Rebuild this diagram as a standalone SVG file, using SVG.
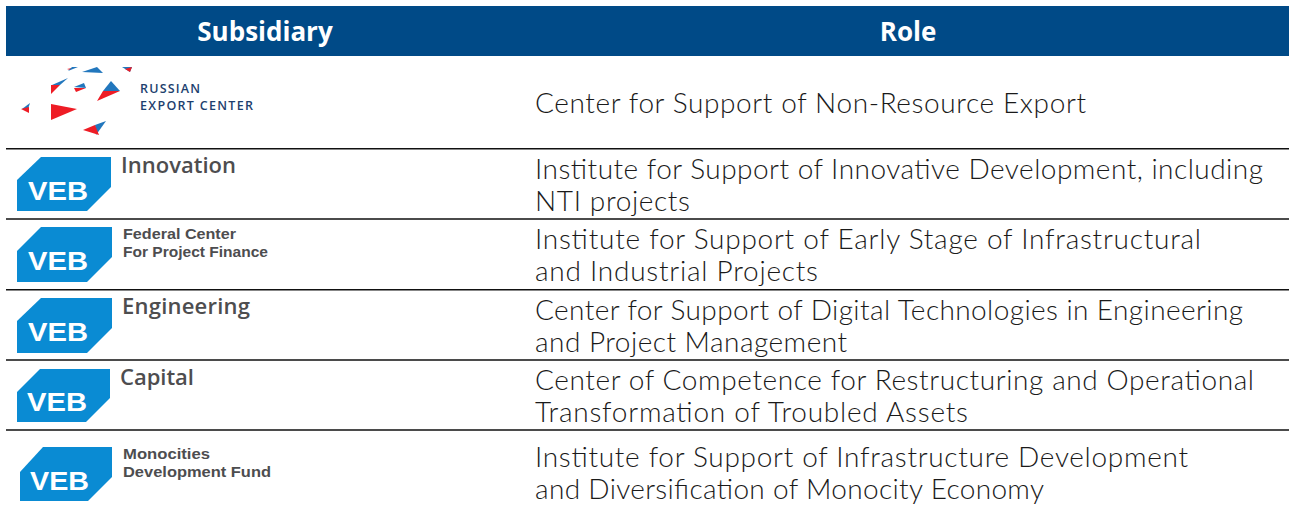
<svg xmlns="http://www.w3.org/2000/svg" width="1289" height="505" viewBox="0 0 1289 505">
<style>
.hd{font:700 26px "Open Sans","Liberation Sans",sans-serif;fill:#fff;text-anchor:middle}
.role{font:300 28px Lato,"Liberation Sans",sans-serif;fill:#1a1a1a}
.sub{font:600 22px "Open Sans","Liberation Sans",sans-serif;fill:#4d4d4f}
.sm{font:700 15px "Liberation Sans",Arial,sans-serif;fill:#4d4d4f}
.veb{font:700 26px "Liberation Sans",Arial,sans-serif;fill:#fff}
.box{fill:#0a8bd3}
.rule{stroke:#111;stroke-width:1.5;fill:none}
.b{fill:#2277bd}
.r{fill:#ee1c25}
.rec{font:600 12.5px "Open Sans","Liberation Sans",sans-serif;fill:#1d3f6e}
</style>
<rect width="1289" height="505" fill="#fff"/>
<g id="header">
<rect x="6" y="6" width="1283" height="50" fill="#004a87"/>
<text class="hd" x="265" y="41">Subsidiary</text>
<text class="hd" x="908" y="41">Role</text>
</g>
<g id="connectors">
<path class="rule" d="M6 148.8H1289M6 219H1289M6 289.8H1289M6 360H1289M6 430H1289"/>
</g>
<g id="row-rec">
<polygon class="r" points="67,69 72,68 70,70"/><polygon class="b" points="72,67 78,67 68,71"/>
<polygon class="b" points="82,72 97,67 103,73"/>
<polygon class="b" points="122,67 132,67 130,72"/><polygon class="r" points="125,69 132,67 130,72"/>
<polygon class="b" points="52,85 68,78 60,85"/><polygon class="r" points="51,85 60,85 51,94"/>
<polygon class="b" points="74,87 84,83 86,88"/><polygon class="r" points="74,88 86,88 76,92"/>
<polygon class="b" points="111,81 120,91 103,91"/><polygon class="r" points="103,91 120,91 97,101"/>
<polygon class="b" points="30,103 28,109 22,109"/><polygon class="r" points="21,109 29,107 29,113"/>
<polygon class="r" points="51,104 77,109 51,120"/>
<polygon class="b" points="106,121 96,135 95,125"/><polygon class="r" points="95,125 99,135 83,130"/>
<text class="rec" x="140" y="93" textLength="60">RUSSIAN</text>
<text class="rec" x="140" y="110" textLength="113">EXPORT CENTER</text>
<text class="role" x="535" y="113" textLength="551">Center for Support of Non-Resource Export</text>
</g>
<g id="row-innovation">
<polygon class="box" points="17,180 41,157 111,157 111,187 87,211 17,211"/>
<text class="veb" x="28" y="200" textLength="60" lengthAdjust="spacingAndGlyphs">VEB</text>
<text class="sub" x="121" y="173" textLength="115">Innovation</text>
<text class="role" x="535" y="179" textLength="728">Institute for Support of Innovative Development, including</text>
<text class="role" x="535" y="211" textLength="155">NTI projects</text>
</g>
<g id="row-federal">
<polygon class="box" points="17,251 41,227 112,227 112,257 87,282 17,282"/>
<text class="veb" x="28" y="270" textLength="60" lengthAdjust="spacingAndGlyphs">VEB</text>
<text class="sm" x="123" y="239" textLength="113" lengthAdjust="spacingAndGlyphs">Federal Center</text>
<text class="sm" x="123" y="257" textLength="145" lengthAdjust="spacingAndGlyphs">For Project Finance</text>
<text class="role" x="535" y="249" textLength="666">Institute for Support of Early Stage of Infrastructural</text>
<text class="role" x="535" y="281" textLength="283">and Industrial Projects</text>
</g>
<g id="row-engineering">
<polygon class="box" points="17,321 41,298 112,298 112,328 87,353 17,353"/>
<text class="veb" x="28" y="341" textLength="60" lengthAdjust="spacingAndGlyphs">VEB</text>
<text class="sub" x="122" y="314" textLength="128">Engineering</text>
<text class="role" x="535" y="320" textLength="708">Center for Support of Digital Technologies in Engineering</text>
<text class="role" x="535" y="352" textLength="312">and Project Management</text>
</g>
<g id="row-capital">
<polygon class="box" points="17,392 40,369 110,369 110,398 86,422 17,422"/>
<text class="veb" x="27" y="411" textLength="60" lengthAdjust="spacingAndGlyphs">VEB</text>
<text class="sub" x="120" y="385" textLength="74">Capital</text>
<text class="role" x="535" y="390" textLength="719">Center of Competence for Restructuring and Operational</text>
<text class="role" x="535" y="422" textLength="433">Transformation of Troubled Assets</text>
</g>
<g id="row-monocities">
<polygon class="box" points="20,472 43,447 112,447 112,477 88,501 20,501"/>
<text class="veb" x="30" y="490" textLength="59" lengthAdjust="spacingAndGlyphs">VEB</text>
<text class="sm" x="123" y="459" textLength="87" lengthAdjust="spacingAndGlyphs">Monocities</text>
<text class="sm" x="123" y="476.5" textLength="148" lengthAdjust="spacingAndGlyphs">Development Fund</text>
<text class="role" x="535" y="467" textLength="653">Institute for Support of Infrastructure Development</text>
<text class="role" x="535" y="499" textLength="509">and Diversification of Monocity Economy</text>
</g>
</svg>
